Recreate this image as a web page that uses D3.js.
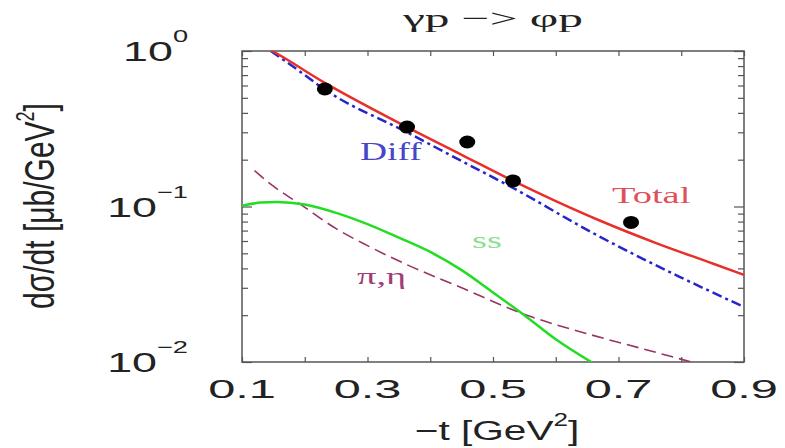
<!DOCTYPE html>
<html>
<head>
<meta charset="utf-8">
<script src="https://cdn.jsdelivr.net/npm/d3@7"></script>
<style>
  body { margin: 0; background: #fff; }
  svg { display: block; }
</style>
</head>
<body>
<svg id="chart" width="785" height="448"></svg>
<script>
// Datos
const tTicks = [0.1, 0.2, 0.3, 0.4, 0.5, 0.6, 0.7, 0.8, 0.9];
const tLabels = [0.1, 0.3, 0.5, 0.7, 0.9];
const yDecades = [1, 0.1, 0.01];
const yExponents = ["0", "\u22121", "\u22122"];

// Puntos experimentales
const dataT = [0.232, 0.363, 0.459, 0.532, 0.72];
const dataY = [0.57, 0.324, 0.26, 0.146, 0.079];

// Curvas
const totalT = [0.14, 0.148, 0.232, 0.363, 0.45, 0.532, 0.6, 0.67, 0.76, 0.85, 0.9];
const totalY = [1.04, 1.0, 0.624, 0.324, 0.215, 0.146, 0.1084, 0.0813, 0.0582, 0.0430, 0.0363];

const diffT = [0.146, 0.19, 0.232, 0.363, 0.45, 0.532, 0.659, 0.798, 0.9];
const diffY = [1.0, 0.75, 0.565, 0.30, 0.196, 0.1315, 0.0676, 0.0352, 0.0226];

const ssT = [0.1, 0.13, 0.156, 0.2, 0.25, 0.3, 0.35, 0.4, 0.45, 0.5, 0.55, 0.6, 0.66];
const ssY = [0.101, 0.106, 0.107, 0.103, 0.091, 0.077, 0.063, 0.051, 0.039, 0.028, 0.020, 0.014, 0.0098];

const pietaT = [0.12, 0.15, 0.192, 0.25, 0.3, 0.357, 0.45, 0.554, 0.65, 0.734, 0.82];
const pietaY = [0.17, 0.135, 0.104, 0.072, 0.056, 0.0433, 0.030, 0.020, 0.0152, 0.0123, 0.0099];

const svg = d3.select("#chart");
const mLeft = 242, mRight = 744, mTop = 51, mBottom = 362;

const x = d3.scaleLinear().domain([0.1, 0.9]).range([mLeft, mRight]);
const y = d3.scaleLog().domain([0.01, 1]).range([mBottom, mTop]);

const sans = "'Liberation Sans', Arial, sans-serif";
const serif = "'Liberation Serif', 'Times New Roman', serif";

// recorte del área
svg.append("clipPath").attr("id", "clip")
  .append("rect").attr("x", mLeft).attr("y", mTop)
  .attr("width", mRight - mLeft).attr("height", mBottom - mTop);

// marcas menores del eje log
const minorY = [];
for (let d = 0.01; d < 1; d *= 10) {
  for (let k = 2; k <= 9; k++) minorY.push(d * k);
}

// ejes con marcas hacia dentro
svg.append("g").attr("transform", `translate(0,${mBottom})`)
  .call(d3.axisBottom(x).tickValues(tTicks).tickSize(-5).tickFormat(""));
svg.append("g").attr("transform", `translate(0,${mTop})`)
  .call(d3.axisTop(x).tickValues(tTicks).tickSize(-5).tickFormat(""));
svg.append("g").attr("transform", `translate(${mLeft},0)`)
  .call(d3.axisLeft(y).tickValues(yDecades).tickSize(-10).tickFormat(""));
svg.append("g").attr("transform", `translate(${mLeft},0)`)
  .call(d3.axisLeft(y).tickValues(minorY).tickSize(-6).tickFormat(""));
svg.append("g").attr("transform", `translate(${mRight},0)`)
  .call(d3.axisRight(y).tickValues(yDecades).tickSize(-10).tickFormat(""));
svg.append("g").attr("transform", `translate(${mRight},0)`)
  .call(d3.axisRight(y).tickValues(minorY).tickSize(-6).tickFormat(""));
svg.selectAll(".domain").remove();
svg.selectAll(".tick line").attr("stroke", "#555").attr("stroke-width", 1.2);

// marco
svg.append("rect")
  .attr("x", mLeft).attr("y", mTop)
  .attr("width", mRight - mLeft).attr("height", mBottom - mTop)
  .attr("fill", "none").attr("stroke", "#555").attr("stroke-width", 1.5);

// curvas
const line = d3.line()
  .x(d => x(d[0]))
  .y(d => y(d[1]))
  .curve(d3.curveMonotoneX);

const plot = svg.append("g").attr("clip-path", "url(#clip)");

function drawCurve(ts, vs, color, width, dash) {
  plot.append("path")
    .datum(ts.map((t, i) => [t, vs[i]]))
    .attr("d", line)
    .attr("fill", "none")
    .attr("stroke", color)
    .attr("stroke-width", width)
    .attr("stroke-dasharray", dash);
}

drawCurve(pietaT, pietaY, "#993366", 1.6, "12,6");
drawCurve(ssT, ssY, "#22dd22", 2.5, null);
drawCurve(diffT, diffY, "#2525cc", 2.5, "10,4,3,4");
drawCurve(totalT, totalY, "#e8302a", 2.5, null);

// puntos
plot.selectAll(".dot")
  .data(dataT.map((t, i) => [t, dataY[i]]))
  .enter()
  .append("ellipse")
  .attr("class", "dot")
  .attr("cx", d => x(d[0]))
  .attr("cy", d => y(d[1]))
  .attr("rx", 8)
  .attr("ry", 6.5)
  .attr("fill", "#000");

// texto estirado horizontalmente como en la figura
function label(px, py, sx, txt, size, family, color, anchor) {
  const g = svg.append("g").attr("transform", `translate(${px},${py}) scale(${sx},1)`);
  return g.append("text")
    .attr("text-anchor", anchor || "start")
    .style("font-family", family)
    .style("font-size", size + "px")
    .attr("fill", color)
    .text(txt);
}

// etiquetas del eje x
tLabels.forEach(t => {
  label(x(t), 398, 1.95, t.toFixed(1), 25, sans, "#222", "middle");
});

// etiquetas del eje y (potencias de diez)
yDecades.forEach((v, i) => {
  const g = svg.append("g").attr("transform", `translate(188,${y(v) + 10}) scale(1.6,1)`);
  const tx = g.append("text")
    .attr("text-anchor", "end")
    .style("font-family", sans)
    .attr("fill", "#222");
  tx.append("tspan").style("font-size", "28px").text("10");
  tx.append("tspan").style("font-size", "17px").attr("dy", -19).text(yExponents[i]);
});

// título
label(493, 27, 1.9, "\u03b3p \u2212> \u03c6p", 26, serif, "#222", "middle");

// título eje x
const xt = svg.append("g").attr("transform", "translate(497,440) scale(1.45,1)")
  .append("text").attr("text-anchor", "middle")
  .style("font-family", sans).style("font-size", "28px").attr("fill", "#222");
xt.append("tspan").text("\u2212t [GeV");
xt.append("tspan").style("font-size", "18px").attr("dy", -14).text("2");
xt.append("tspan").attr("dy", 14).text("]");

// título eje y
const yt = svg.append("g").attr("transform", "translate(54,206) scale(1.42,1) rotate(-90)")
  .append("text").attr("text-anchor", "middle")
  .style("font-family", sans).style("font-size", "30px").attr("fill", "#222");
yt.append("tspan").text("d\u03c3/dt [\u03bcb/GeV");
yt.append("tspan").style("font-size", "18px").attr("dy", -14).text("2");
yt.append("tspan").attr("dy", 14).text("]");

// etiquetas de curvas
label(360, 160, 1.5, "Diff", 25, serif, "#4646c8");
label(612, 203, 1.6, "Total", 24, serif, "#e0505a");
label(472, 248, 1.6, "ss", 24, serif, "#8ee08e");
label(357, 284, 1.6, "\u03c0,\u03b7", 24, serif, "#a03c78");
</script>
</body>
</html>
